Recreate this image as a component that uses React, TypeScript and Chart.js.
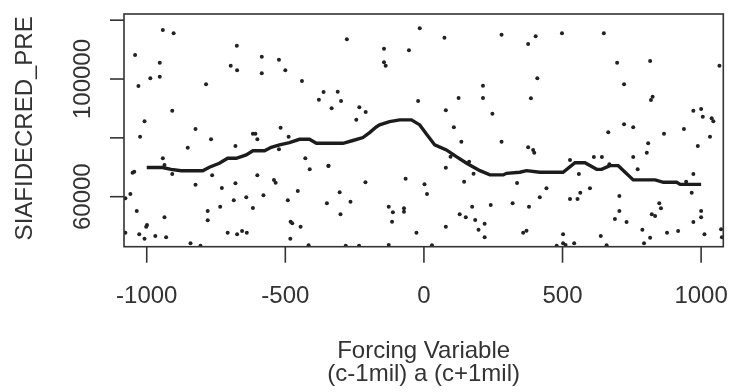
import React, { useEffect, useRef } from "react";
import { Chart, registerables } from "chart.js";

Chart.register(...registerables);

// Scatter observations: forcing variable (x) vs SIAFIDECRED_PRE (y)
const pointX: number[] = [
  -942, -903, -1042, -675, -585, -523, -953, -697, -674, -585, -500, -987, -953, -1030, -786, -440,
  -362, -379, -908, -1008, -824, -517, -617, -608, -1024, -768, -601, -488, -852, -680, -942, -936,
  -1045, -1051, -523, -428, -412, -344, -908, -764, -601, -541, -535, -824, -680, -729, -455, -1059,
  -1077, -579, -641, -686, -491, -350, -735, -617, -1036, -780, -936, -780, -999, -1002, -481, -475,
  -445, -1077, -1027, -1008, -969, -930, -708, -674, -656, -639, -482, -842, -806, -416, -345, -211,
  -304, -265, -301, -66, -127, -112, -72, -72, -115, 2, 11, -27, 79, -127, 29, -282,
  -234, 135, 280, 376, 96, 163, 79, 179, 145, 336, 241, 320, 379, 174, 129, 151,
  185, 219, 197, 219, 358, 370, -15, -278, 74, 280, 376, -144, -54, -144, -138, -311,
  -299, -333, -233, -210, -244, -21, 213, 125, 213, 79, 247, 108, 403, 498, 649, 697,
  816, 1066, 409, 386, 722, 825, 819, 972, 1000, 1006, 1038, 1044, 722, 755, 665, 866,
  938, 1032, 394, 398, 809, 988, 804, 613, 642, 755, 527, 669, 559, 771, 972, 442,
  599, 564, 418, 527, 554, 705, 966, 849, 855, 705, 1000, 689, 731, 822, 834, 1000,
  972, 502, 788, 877, 917, 1012, 1072, 1075, 638, 816, 502, 511, 542, 479, 659, 794,
  946,
];
const pointY: number[] = [
  116660, 115540, 108160, 111320, 107590, 106570, 105550, 104530, 102960, 101940, 102960, 100240, 100790, 97630, 98210, 99330,
  95590, 92970, 89230, 85630, 83010, 83450, 81410, 81410, 80390, 79510, 79510, 80390, 76660, 77230, 73050, 70780,
  68500, 68160, 76110, 73050, 69310, 70540, 67720, 67270, 67270, 65680, 64760, 64080, 64550, 62960, 61940, 60920,
  59460, 60480, 59800, 58780, 58780, 57760, 56600, 56160, 55140, 55140, 53000, 51980, 50380, 49800, 51500, 50960,
  49800, 47760, 47220, 45720, 46640, 46200, 47760, 47220, 48340, 47760, 45720, 44160, 43300, 43480, 70430, 64890,
  61500, 58300, 54020, 66120, 56600, 54700, 56060, 54900, 51500, 64210, 60920, 47760, 49800, 43580, 43480, 43300,
  43300, 78690, 78690, 76790, 73600, 71900, 69860, 67820, 65100, 64660, 57180, 57760, 56600, 56600, 54020, 53000,
  52080, 50820, 48780, 46200, 47760, 48440, 117240, 113500, 114040, 115060, 111900, 110310, 109760, 105680, 104530, 95690,
  92530, 90050, 90390, 88790, 86170, 92530, 97730, 93550, 93550, 89370, 88210, 83590, 114520, 115540, 115540, 105550,
  106120, 104530, 100240, 93450, 98210, 93990, 92870, 89230, 89810, 87190, 86650, 85630, 84610, 83590, 81890, 81410,
  83010, 80390, 75870, 74960, 78150, 77230, 74960, 73490, 73490, 73490, 72470, 71010, 67720, 69310, 67720, 62860,
  62860, 61360, 59800, 59220, 59220, 60240, 61360, 57760, 56060, 55140, 55140, 52420, 51400, 54020, 53440, 53000,
  51400, 47220, 48780, 47760, 48340, 47220, 48920, 46200, 46640, 46060, 44160, 43580, 44160, 43300, 43480, 44160,
  65100,
];

// Smoothed (local) fit line
const lineX: number[] = [
  -1000, -943, -912, -876, -798, -774, -738, -708, -677, -641, -617, -575, -551, -521, -485, -449,
  -413, -388, -292, -256, -220, -196, -172, -160, -124, -87, -45, -15, 9, 39, 81, 117,
  154, 202, 238, 286, 298, 346, 370, 418, 502, 545, 581, 623, 641, 671, 701, 755,
  834, 864, 912, 924, 1000,
];
const lineY: number[] = [
  69900, 69900, 69300, 68800, 68800, 70000, 71350, 73050, 73050, 74200, 75600, 75600, 76800, 77600, 78350, 79500,
  79500, 78150, 78150, 79100, 80100, 81800, 83700, 84400, 85500, 86100, 86100, 84400, 81300, 77600, 75900, 73600,
  71350, 68850, 67400, 67400, 67950, 68300, 68850, 68300, 68300, 71550, 71550, 69300, 69300, 70550, 70550, 65700,
  65700, 64900, 64900, 64200, 64200,
];

const xTicks: number[] = [-1000, -500, 0, 500, 1000];
const xTickLabels: string[] = ["-1000", "-500", "0", "500", "1000"];
const yTicks: number[] = [60000, 80000, 100000, 120000];
const yTickLabels: string[] = ["60000", "", "100000", ""];
const xTitleLines: string[] = ["Forcing Variable", "(c-1mil) a (c+1mil)"];
const yTitle = "SIAFIDECRED_PRE";

const FONT = '"Liberation Sans", Arial, sans-serif';
const INK = "#333333";

const rAxesPlugin = {
  id: "rAxes",
  afterDraw(chart: any) {
    const { ctx, chartArea } = chart;
    const xs = chart.scales.x;
    const ys = chart.scales.y;
    const { left, right, top, bottom } = chartArea;
    ctx.save();
    ctx.strokeStyle = INK;
    ctx.fillStyle = INK;
    ctx.lineWidth = 1.6;
    ctx.strokeRect(left, top, right - left, bottom - top);

    // x ticks
    ctx.font = `24px ${FONT}`;
    ctx.textAlign = "center";
    ctx.textBaseline = "alphabetic";
    xTicks.forEach((v, i) => {
      const px = xs.getPixelForValue(v);
      ctx.beginPath();
      ctx.moveTo(px, bottom);
      ctx.lineTo(px, bottom + 16);
      ctx.stroke();
      ctx.fillText(xTickLabels[i], px, 303);
    });

    // y ticks
    yTicks.forEach((v, i) => {
      const py = ys.getPixelForValue(v);
      ctx.beginPath();
      ctx.moveTo(left, py);
      ctx.lineTo(left - 14, py);
      ctx.stroke();
      if (yTickLabels[i]) {
        ctx.save();
        ctx.translate(90, py);
        ctx.rotate(-Math.PI / 2);
        ctx.textAlign = "center";
        ctx.fillText(yTickLabels[i], 0, 0);
        ctx.restore();
      }
    });

    // titles
    const cx = (left + right) / 2;
    ctx.textAlign = "center";
    ctx.fillText(xTitleLines[0], cx, 358);
    ctx.fillText(xTitleLines[1], cx, 381);

    ctx.save();
    ctx.translate(32, (top + bottom) / 2 - 2);
    ctx.rotate(-Math.PI / 2);
    ctx.textAlign = "center";
    ctx.fillText(yTitle, 0, 0);
    ctx.restore();

    ctx.restore();
  },
};

export default function App() {
  const ref = useRef<HTMLCanvasElement | null>(null);

  useEffect(() => {
    if (!ref.current) return;
    const points = pointX.map((x, i) => ({ x, y: pointY[i] }));
    const line = lineX.map((x, i) => ({ x, y: lineY[i] }));
    const chart = new Chart(ref.current, {
      type: "scatter",
      data: {
        datasets: [
          {
            type: "line",
            label: "fit",
            data: line,
            borderColor: "#1c1c1c",
            borderWidth: 3.4,
            pointRadius: 0,
            tension: 0,
            fill: false,
          } as any,
          {
            label: "obs",
            data: points,
            pointRadius: 2,
            pointBackgroundColor: "#222",
            pointBorderWidth: 0,
            backgroundColor: "#222",
          },
        ],
      },
      options: {
        responsive: false,
        animation: false,
        devicePixelRatio: 1,
        layout: { padding: { left: 124, top: 14, right: 5.7, bottom: 145.3 } },
        plugins: { legend: { display: false }, tooltip: { enabled: false } },
        events: [],
        scales: {
          x: { type: "linear", display: false, min: -1082, max: 1080 },
          y: { type: "linear", display: false, min: 43000, max: 122100 },
        },
      },
      plugins: [rAxesPlugin],
    });
    return () => chart.destroy();
  }, []);

  return (
    <div style={{ position: "absolute", left: 0, top: 0, width: 729, height: 392, background: "#fff" }}>
      <canvas ref={ref} width={729} height={392} style={{ display: "block" }} />
    </div>
  );
}
